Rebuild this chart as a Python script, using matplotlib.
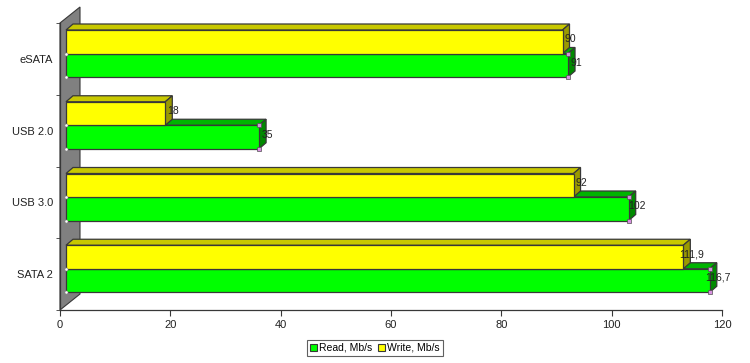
import matplotlib
matplotlib.use('Agg')
import matplotlib.pyplot as plt
from matplotlib.patches import Polygon, Rectangle, Patch

plt.rcParams['font.family'] = ['Liberation Sans', 'DejaVu Sans']

# данные
categories = ['SATA 2', 'USB 3.0', 'USB 2.0', 'eSATA']
read = [116.7, 102, 35, 91]
write = [111.9, 92, 18, 90]
xticks = [0, 20, 40, 60, 80, 100, 120]

# геометрия (в пикселях)
W, H = 750, 363
AX_L, AX_R, AX_B, AX_T = 60, 722, 310, 23
PX_X = 120 / (AX_R - AX_L)
PX_Y = len(categories) / (AX_B - AX_T)
SHIFT = 6          # сдвиг передней грани столбцов
DEPTH = (7, 6)     # глубина столбцов
WALL = (20, 16)    # глубина стенки
EDGE = '#383838'

fig = plt.figure(figsize=(W / 100, H / 100), dpi=100)
ax = fig.add_axes([AX_L / W, (H - AX_B) / H, (AX_R - AX_L) / W, (AX_B - AX_T) / H])
ax.set_xlim(0, 120)
ax.set_ylim(-0.5, len(categories) - 0.5)

# стенка
wx, wy = WALL[0] * PX_X, WALL[1] * PX_Y
y0, y1 = -0.5, len(categories) - 0.5
ax.add_patch(Polygon([(0, y0), (wx, y0 + wy), (wx, y1 + wy), (0, y1)], closed=True,
                     facecolor='#808080', edgecolor=EDGE, lw=0.8, clip_on=False, zorder=1))


def bar3d(left, right, top, bottom, face, top_c, side_c):
    dx, dy = DEPTH[0] * PX_X, DEPTH[1] * PX_Y
    kw = dict(edgecolor=EDGE, lw=0.9, clip_on=False, zorder=2)
    ax.add_patch(Polygon([(left, top), (left + dx, top + dy), (right + dx, top + dy), (right, top)],
                         closed=True, facecolor=top_c, **kw))
    ax.add_patch(Polygon([(right, bottom), (right + dx, bottom + dy), (right + dx, top + dy), (right, top)],
                         closed=True, facecolor=side_c, **kw))
    ax.add_patch(Rectangle((left, bottom), right - left, top - bottom, facecolor=face, **kw))


def fmt(v):
    return f'{v:g}'.replace('.', ',')


left = SHIFT * PX_X
for i, (r, w) in enumerate(zip(read, write)):
    ctop = i + 0.5
    w_top = ctop - 7 * PX_Y
    mid = ctop - 30.5 * PX_Y
    r_bot = ctop - 54 * PX_Y
    bar3d(left, left + r, mid, r_bot, '#00ff00', '#00b400', '#008a00')
    bar3d(left, left + w, w_top, mid, '#ffff00', '#c8c800', '#9a9a00')
    ax.plot([left + r, left + r], [mid, r_bot], 's', ms=3.2, mfc='#d890e0', mec='#505050',
            mew=0.5, clip_on=False, zorder=3)
    ax.plot([left, left], [mid, r_bot], 'o', ms=2.2, mfc='white', mec='#909090',
            mew=0.4, clip_on=False, zorder=3)
    ax.text(left + w + 8 * PX_X, (w_top + mid) / 2 + 2.5 * PX_Y, fmt(w), ha='center',
            va='center', fontsize=7.5, color='#222222', zorder=4)
    ax.text(left + r + 8 * PX_X, (mid + r_bot) / 2 + 2.5 * PX_Y, fmt(r), ha='center',
            va='center', fontsize=7.5, color='#222222', zorder=4)

for s in ['top', 'right']:
    ax.spines[s].set_visible(False)
for s in ['left', 'bottom']:
    ax.spines[s].set_color(EDGE)
    ax.spines[s].set_linewidth(0.9)

ax.set_xticks(xticks)
ax.set_yticks(range(len(categories)))
ax.set_yticklabels(categories)
ax.set_yticks([i - 0.5 for i in range(len(categories) + 1)], minor=True)
ax.tick_params(axis='y', which='major', length=0, pad=5, labelsize=8, labelcolor='#222222')
ax.tick_params(axis='y', which='minor', length=3, color=EDGE)
ax.tick_params(axis='x', length=4, color=EDGE, labelsize=8, labelcolor='#222222')
ax.set_facecolor('none')

handles = [Patch(facecolor='#00ff00', edgecolor=EDGE, lw=0.8, label='Read, Mb/s'),
           Patch(facecolor='#ffff00', edgecolor=EDGE, lw=0.8, label='Write, Mb/s')]
leg = fig.legend(handles=handles, loc='center', bbox_to_anchor=(375 / W, 1 - 348 / H), ncol=2,
                 fontsize=7.5, frameon=True, fancybox=False, handlelength=0.7, handleheight=0.7,
                 handletextpad=0.2, columnspacing=0.5, borderpad=0.25, borderaxespad=0)
leg.get_frame().set_edgecolor(EDGE)
leg.get_frame().set_linewidth(0.8)

fig.savefig('out.png', dpi=100)
